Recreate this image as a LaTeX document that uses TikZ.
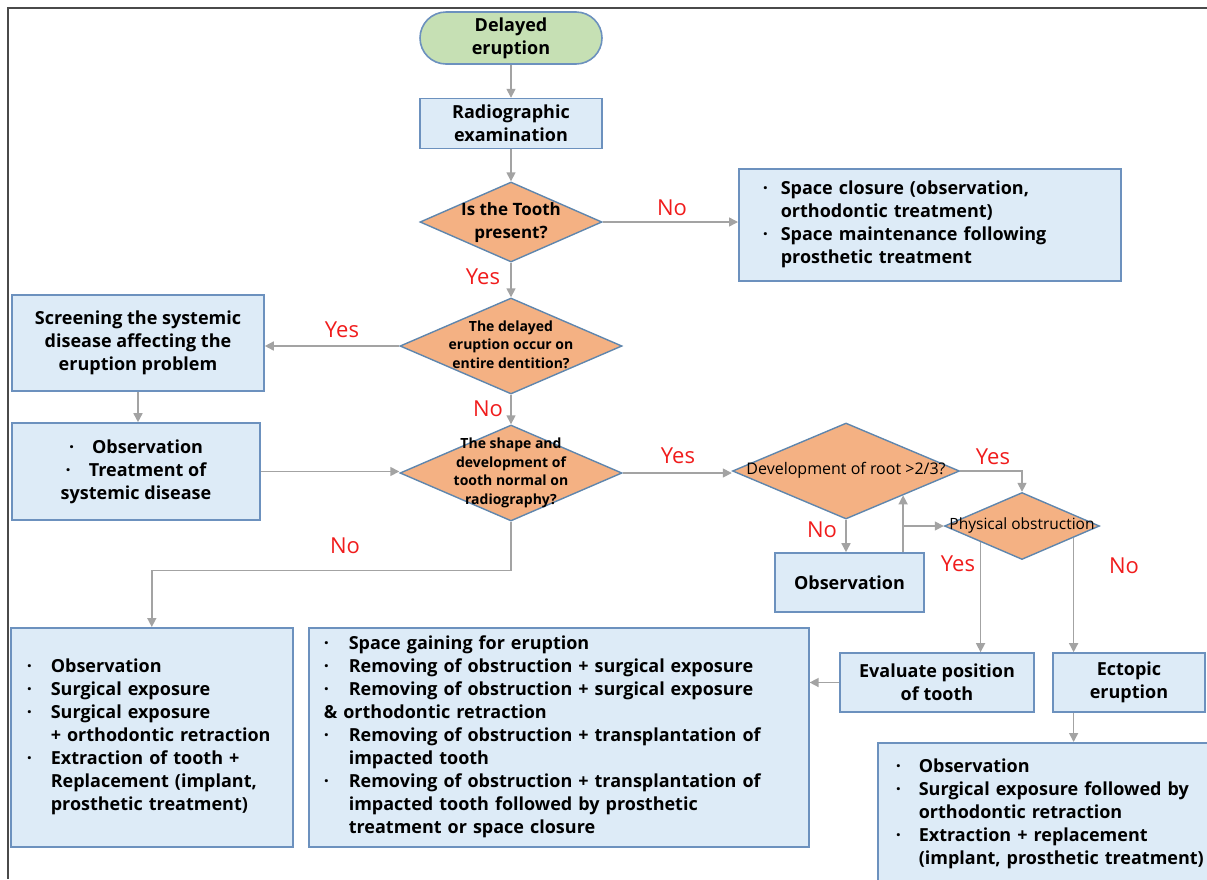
\documentclass[tikz,border=0pt]{standalone}
\usepackage{fontspec}
\setmainfont{Open Sans}
\usetikzlibrary{arrows.meta,positioning,calc,shapes.geometric}
\definecolor{BoxFill}{HTML}{DDEBF7}
\definecolor{BoxLine}{HTML}{6C91BE}
\definecolor{DiaFill}{HTML}{F4B183}
\definecolor{DiaLine}{HTML}{5F86AD}
\definecolor{StartFill}{HTML}{C6E0B4}
\definecolor{ArrGray}{HTML}{A3A3A3}
\definecolor{LabRed}{HTML}{F01C1C}
\definecolor{Frame}{HTML}{4A4A4A}
\newcommand{\bul}{\textperiodcentered}
\newcommand{\blist}[2]{\begin{tabular}{@{}p{#1}@{}l@{}}#2\end{tabular}}
\newcommand{\dtext}[1]{\smash{\makebox[0pt]{\raisebox{-.25em}{\begin{tabular}{@{}c@{}}#1\end{tabular}}}}}
\tikzset{
  arr/.style={-{Triangle[length=9pt,width=9pt]},line width=1.5pt,draw=ArrGray},
  boxstyle/.style={draw=BoxLine,fill=BoxFill,line width=1.6pt,align=center,
    font=\fontsize{18}{23}\selectfont\bfseries},
  listbox/.style={boxstyle,align=left,anchor=north west},
  startbox/.style={boxstyle,fill=StartFill,rounded corners=26pt},
  qbox/.style={diamond,draw=DiaLine,fill=DiaFill,line width=1.4pt,inner sep=0pt},
  lab/.style={text=LabRed,font=\fontsize{22}{24}\selectfont}
}

\begin{document}
\begin{tikzpicture}[x=1pt,y=-1pt]
  \useasboundingbox (0,0) rectangle (1207,879);
  \clip (0,0) rectangle (1207,879);
  \draw[Frame,line width=2pt] (1207,8) -- (8,8) -- (8,879);

  % main column
  \node[startbox,minimum width=182pt,minimum height=52pt] (start) at (511,38) {Delayed\\eruption};
  \node[boxstyle,below=33pt of start,minimum width=182pt,minimum height=50pt] (radio) {Radiographic\\examination};
  \node[qbox,minimum width=182pt,minimum height=80pt,font=\fontsize{17}{23}\selectfont\bfseries] (qtooth) at (511,222) {\dtext{Is the Tooth\\present?}};
  \node[qbox,minimum width=222pt,minimum height=96pt,font=\fontsize{14}{18.5}\selectfont\bfseries] (qentire) at (511,346) {\dtext{The delayed\\eruption occur on\\entire dentition?}};
  \node[qbox,minimum width=222pt,minimum height=96pt,font=\fontsize{14}{18.5}\selectfont\bfseries] (qshape) at (511,473) {\dtext{The shape and\\development of\\tooth normal on\\radiography?}};

  % right side
  \node[listbox,text width=334pt,inner xsep=24pt,minimum height=112pt] (spacebox) at (738,168)
    {\blist{18pt}{\bul & Space closure (observation,\\ & orthodontic treatment)\\
      \bul & Space maintenance following\\ & prosthetic treatment}};
  \node[qbox,minimum width=227pt,minimum height=96pt,font=\fontsize{16}{18}\selectfont] (qroot) at (846,471) {\dtext{Development of root >2/3?}};
  \node[qbox,minimum width=155pt,minimum height=67pt,font=\fontsize{15.5}{18}\selectfont] (qobst) at (1022,526) {\dtext{Physical obstruction}};
  \node[boxstyle,minimum width=149pt,minimum height=59pt] (obs) at (849.5,582.5) {Observation};
  \node[boxstyle,minimum width=194pt,minimum height=59pt] (evalpos) at (937,682.5) {Evaluate position\\of tooth};
  \node[boxstyle,minimum width=152pt,minimum height=59pt] (ectopic) at (1129,682.5) {Ectopic\\eruption};
  \node[listbox,text width=304pt,inner xsep=18pt,minimum height=142pt] (ectbox) at (877,742)
    {\blist{23pt}{\bul & Observation\\ \bul & Surgical exposure followed by\\ & orthodontic retraction\\
      \bul & Extraction + replacement\\ & (implant, prosthetic treatment)}};

  % left side
  \node[boxstyle,minimum width=252pt,minimum height=96pt] (screen) at (138,343) {Screening the systemic\\disease affecting the\\eruption problem};
  \node[boxstyle,minimum width=248pt,minimum height=97pt] (systemic) at (136,471.5) {\bul\hspace{18pt}Observation\\ \bul\hspace{18pt}Treatment of\\systemic disease};
  \node[listbox,text width=250pt,inner xsep=16pt,minimum height=219pt] (leftbox) at (10,627)
    {\blist{24pt}{\bul & Observation\\ \bul & Surgical exposure\\ \bul & Surgical exposure\\ & + orthodontic retraction\\
      \bul & Extraction of tooth +\\ & Replacement (implant,\\ & prosthetic treatment)}};
  \node[listbox,text width=470pt,inner xsep=15pt,minimum height=219pt] (midbox) at (308,627)
    {\blist{25pt}{\bul & Space gaining for eruption\\ \bul & Removing of obstruction + surgical exposure\\
      \bul & Removing of obstruction + surgical exposure\\ \multicolumn{2}{@{}l@{}}{\& orthodontic retraction}\\
      \bul & Removing of obstruction + transplantation of\\ & impacted tooth\\
      \bul & Removing of obstruction + transplantation of\\ & impacted tooth followed by prosthetic\\ & treatment or space closure}};

  % connectors
  \draw[arr] (start) -- (radio);
  \draw[arr] (radio) -- (qtooth);
  \draw[arr] (qtooth.east) -- (qtooth.east -| spacebox.west);
  \draw[arr] (qtooth) -- (qentire);
  \draw[arr] (qentire.west) -- (qentire.west -| screen.east);
  \draw[arr] (screen.south) -- (screen.south |- systemic.north);
  \draw[arr] (systemic.east) -- (systemic.east -| qshape.west);
  \draw[arr] (qentire) -- (qshape);
  \draw[arr] (qshape.east) -- (qshape.east -| qroot.west);
  \draw[arr] (qroot.east) -| (qobst.north);
  \draw[arr] (qroot.south) -- (qroot.south |- obs.north);
  \draw[arr] (obs.north -| qroot.south east) -- (qroot.south east);
  \coordinate (split) at (qroot.south east |- qobst.west);
  \draw[arr] (split) -- (qobst.west);
  \coordinate (obL) at ($(qobst.south)!.53!(qobst.west)$);
  \coordinate (obR) at ($(qobst.south)!.66!(qobst.east)$);
  \draw[arr] (obL) -- (obL |- evalpos.north);
  \draw[arr] (obR) -- (obR |- ectopic.north);
  \draw[arr] (evalpos.west) -- (evalpos.west -| midbox.east);
  \draw[arr] (obR |- ectopic.south) -- (obR |- ectbox.north);
  \draw[arr] (qshape.south) -- ++(0,49) -| (leftbox.north);

  % yes / no
  \node[lab] (noA) at (672,208) {No};
  \node[lab] (yesA) at (483,277) {Yes};
  \node[lab] (yesB) at (342,330) {Yes};
  \node[lab] (noB) at (488,409) {No};
  \node[lab] (yesC) at (678,456) {Yes};
  \node[lab] (yesD) at (993,457) {Yes};
  \node[lab] (noC) at (822,530) {No};
  \node[lab] (yesE) at (958,564) {Yes};
  \node[lab] (noD) at (1124,566) {No};
  \node[lab] (noE) at (345,546) {No};
\end{tikzpicture}
\end{document}
